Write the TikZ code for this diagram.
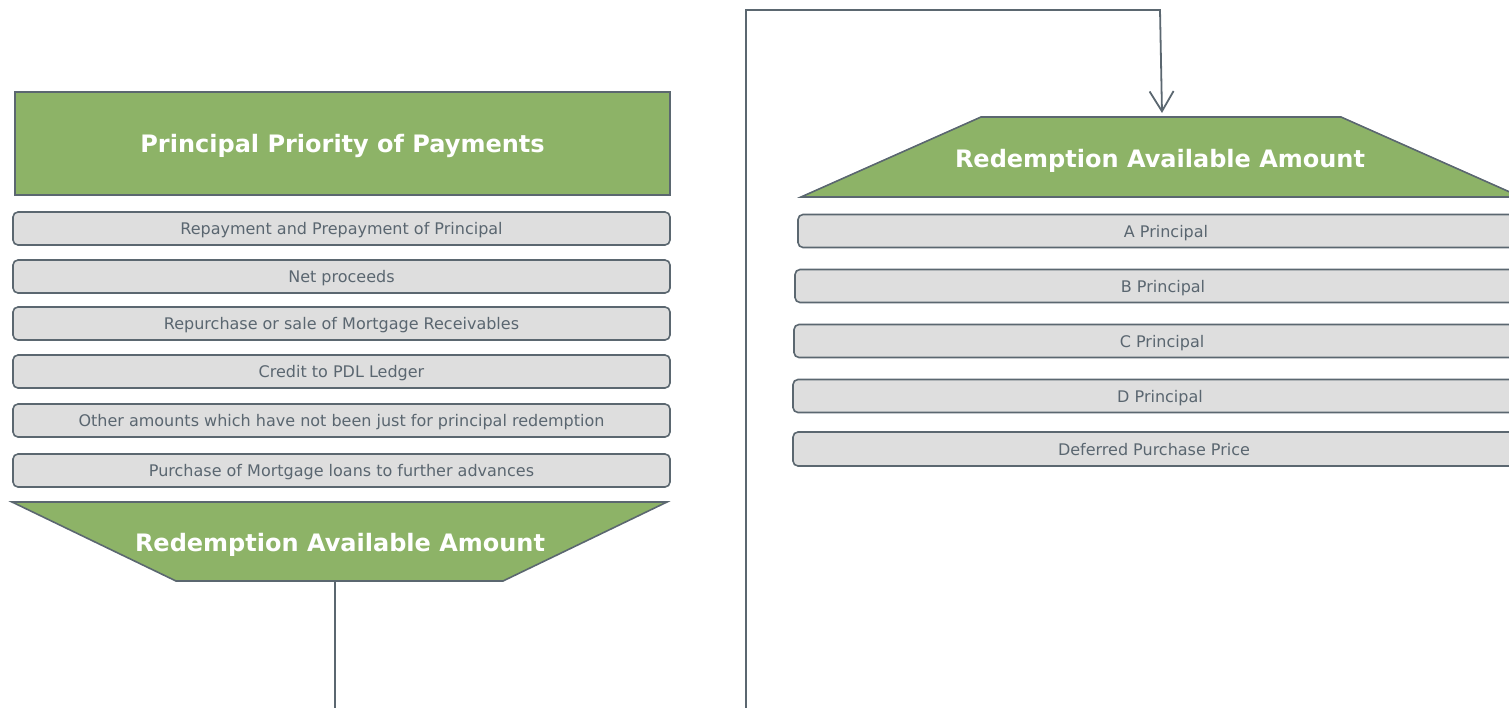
\documentclass[tikz,border=0pt]{standalone}
\usepackage{fontspec}
\setmainfont{DejaVu Sans}
\usetikzlibrary{arrows.meta}
\definecolor{grn}{HTML}{8DB367}
\definecolor{edge}{HTML}{5B6770}
\definecolor{boxfill}{HTML}{DEDEDE}
\definecolor{txt}{HTML}{5A6670}
\begin{document}
\begin{tikzpicture}[x=1pt,y=-1pt,
  itembox/.style={draw=edge, fill=boxfill, line width=1.6pt, rounded corners=5pt,
    text=txt, font=\fontsize{16}{19}\selectfont, inner sep=0pt, minimum height=33pt, text depth=0pt},
  titlebox/.style={draw=edge, fill=grn, line width=1.6pt, text=white,
    font=\fontsize{24}{28}\selectfont\bfseries, inner sep=0pt, text depth=0pt},
  headtext/.style={text=white, font=\fontsize{24}{28}\selectfont\bfseries, inner sep=0pt, text depth=0pt},
  greenshape/.style={draw=edge, fill=grn, line width=1.6pt, line join=miter},
  conn/.style={draw=edge, line width=1.8pt}]
\useasboundingbox (0,0) rectangle (1509,707);
\clip (0,0) rectangle (1509,707);
% left column
\node[titlebox, minimum width=655pt, minimum height=103pt] (title) at (342.5,143.5) {Principal Priority of Payments};
\node[itembox, minimum width=657pt] (l1) at (341.5,228.5) {Repayment and Prepayment of Principal};
\node[itembox, minimum width=657pt] (l2) at (341.5,276.5) {Net proceeds};
\node[itembox, minimum width=657pt] (l3) at (341.5,323.5) {Repurchase or sale of Mortgage Receivables};
\node[itembox, minimum width=657pt] (l4) at (341.5,371.5) {Credit to PDL Ledger};
\node[itembox, minimum width=657pt] (l5) at (341.5,420.5) {Other amounts which have not been just for principal redemption};
\node[itembox, minimum width=657pt] (l6) at (341.5,470.5) {Purchase of Mortgage loans to further advances};
\path[greenshape] (12,502) -- (667,502) -- (503,581) -- (176,581) -- cycle;
\node[headtext] (lred) at (340,542) {Redemption Available Amount};
\coordinate (lbot) at (335,581);
\coordinate (lend) at (335,712);
\draw[conn] (lbot) -- (lend);
% right column
\path[greenshape] (981,117) -- (1341,117) -- (1521,197) -- (801,197) -- cycle;
\node[headtext] (rred) at (1160,158) {Redemption Available Amount};
\coordinate (rtop) at (1162,113);
\coordinate (rstart) at (746,712);
\draw[conn, -{Straight Barb[length=20pt, width=24pt, line width=1.8pt]}] (rstart) -- (746,10) -- (1160,10) -- (rtop);
\node[itembox, minimum width=736pt] (r1) at (1166,231) {A Principal};
\node[itembox, minimum width=736pt] (r2) at (1163,286) {B Principal};
\node[itembox, minimum width=736pt] (r3) at (1162,341) {C Principal};
\node[itembox, minimum width=734pt] (r4) at (1160,396) {D Principal};
\node[itembox, minimum width=722pt, minimum height=34pt] (r5) at (1154,449) {Deferred Purchase Price};
\end{tikzpicture}
\end{document}
